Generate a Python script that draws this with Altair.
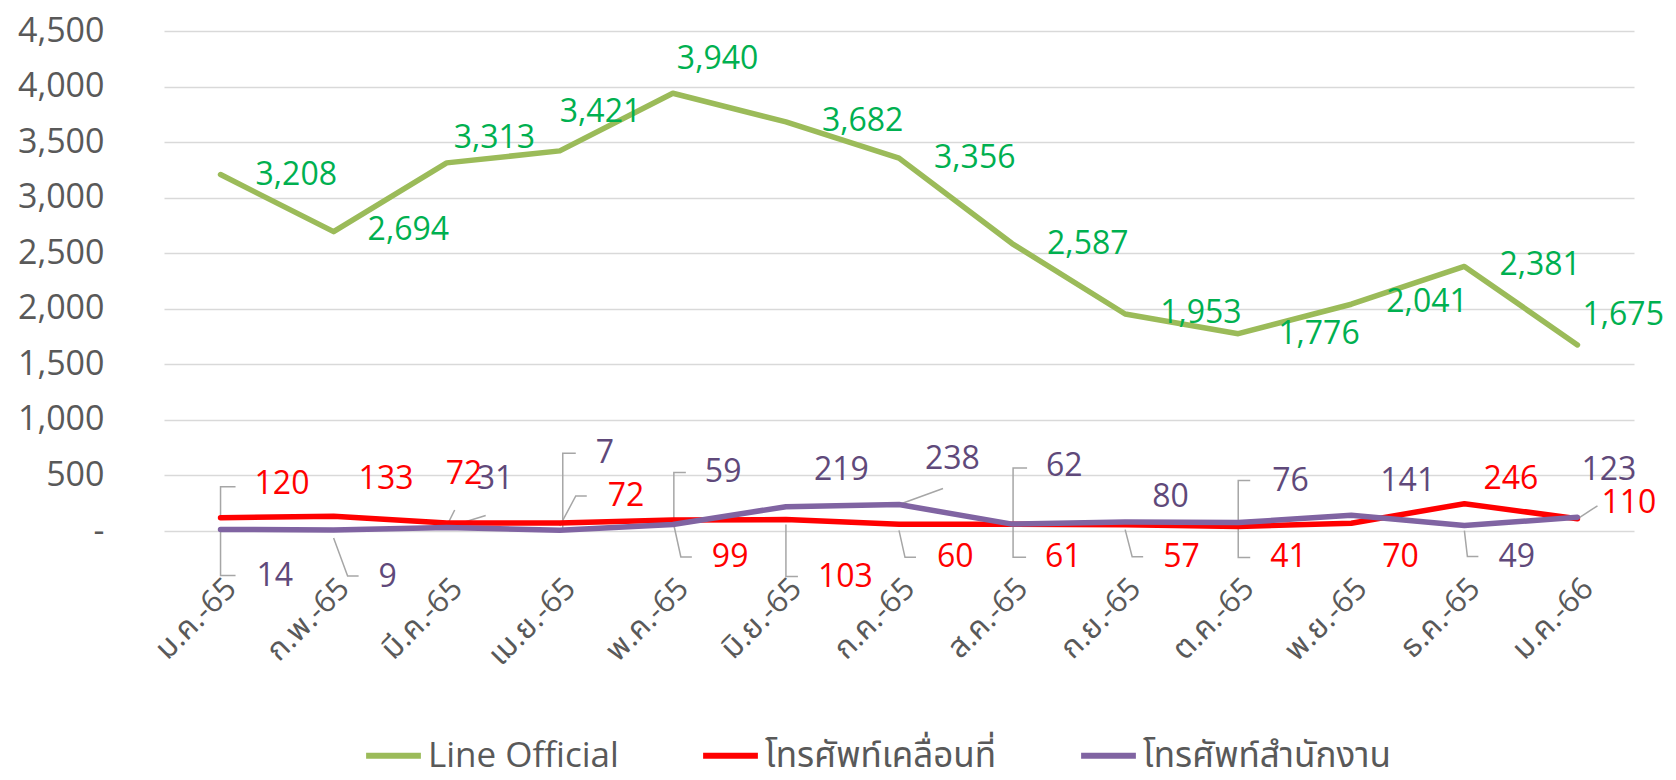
import altair as alt
import pandas as pd

# ---------------- data ----------------
months = ["ม.ค.-65", "ก.พ.-65", "มี.ค.-65", "เม.ย.-65", "พ.ค.-65", "มิ.ย.-65",
          "ก.ค.-65", "ส.ค.-65", "ก.ย.-65", "ต.ค.-65", "พ.ย.-65", "ธ.ค.-65", "ม.ค.-66"]
line_official = [3208, 2694, 3313, 3421, 3940, 3682, 3356, 2587, 1953, 1776, 2041, 2381, 1675]
mobile = [120, 133, 72, 72, 99, 103, 60, 61, 57, 41, 70, 246, 110]
office = [14, 9, 31, 7, 59, 219, 238, 62, 80, 76, 141, 49, 123]

series_names = ["Line Official", "โทรศัพท์เคลื่อนที่", "โทรศัพท์สำนักงาน"]
series_values = [line_official, mobile, office]

# ---------------- styles ----------------
line_colors = ["#9BBB59", "#FF0000", "#8064A2"]
label_colors = ["#00B050", "#FF0000", "#5F497A"]
FONT = "Open Sans, Noto Sans Thai, Noto Sans, sans-serif"

# label offsets in pixels from their point: (left edge dx, vertical centre dy; down is +)
label_offsets = [
    [(35, 0), (34, -2), (7, -25), (0, -39), (4, -34), (36, -1), (35, 0),
     (35, 0), (35, -1), (40, 0), (35, -2), (35, -1), (5, -30)],
    [(34, -34), (25, -37), (-1, -49), (48, -27), (39, 37), (32, 57), (38, 33),
     (33, 33), (38, 32), (32, 31), (31, 34), (19, -25), (24, -16)],
    [(36, 47), (45, 47), (30, -49), (36, -77), (32, -52), (28, -37), (26, -46),
     (34, -58), (27, -25), (34, -42), (29, -34), (34, 31), (4, -47)],
]

# leader lines: (series, month index, polyline offsets in pixels from the point)
leaders = [
    (1, 0, [(0, 0), (0, -31), (15, -31)]),
    (2, 0, [(0, 2), (0, 46), (15, 46)]),
    (2, 1, [(0, 8), (14, 46), (25, 46)]),
    (1, 2, [(0, 3), (8, -13)]),
    (2, 2, [(0, 0), (39, -12)]),
    (2, 3, [(3, 0), (3, -77), (16, -77)]),
    (1, 3, [(0, 3), (16, -27), (27, -27)]),
    (2, 4, [(1, 0), (1, -52), (13, -52)]),
    (1, 4, [(1, 5), (8, 37), (19, 37)]),
    (1, 5, [(0, 5), (0, 57), (12, 57)]),
    (2, 6, [(0, 0), (44, -16)]),
    (1, 6, [(0, 6), (6, 33), (17, 33)]),
    (2, 7, [(1, 0), (1, -56), (15, -56)]),
    (1, 7, [(1, 0), (1, 33), (14, 33)]),
    (1, 8, [(0, 5), (7, 32), (18, 32)]),
    (2, 9, [(0, 0), (0, -42), (12, -42)]),
    (1, 9, [(0, 0), (0, 31), (12, 31)]),
    (2, 11, [(0, 5), (3, 31), (14, 31)]),
    (1, 12, [(0, 0), (20, -13)]),
]

W, H = 1470, 500
YMAX = 4500
BAND = W / len(months)
UPX = YMAX / H

# ---------------- tables ----------------
rows = []
for s, vals in zip(series_names, series_values):
    for i, v in enumerate(vals):
        rows.append({"idx": i, "series": s, "value": v})
df_lines = pd.DataFrame(rows)

lab_rows = []
for k, (vals, offs) in enumerate(zip(series_values, label_offsets)):
    for i, (v, (dx, dy)) in enumerate(zip(vals, offs)):
        lab_rows.append({"idx": i + dx / BAND, "value": v - dy * UPX,
                         "label": f"{v:,}", "lcolor": label_colors[k]})
df_labels = pd.DataFrame(lab_rows)

ld_rows = []
for lid, (k, i, path) in enumerate(leaders):
    v = series_values[k][i]
    for seq, (dx, dy) in enumerate(path):
        ld_rows.append({"lid": lid, "seq": seq, "idx": i + dx / BAND, "value": v - dy * UPX})
df_leaders = pd.DataFrame(ld_rows)

xscale = alt.Scale(domain=[-0.5, len(months) - 0.5], nice=False, zero=False)
yscale = alt.Scale(domain=[0, YMAX], nice=False, zero=True)

month_js = "[" + ",".join("'" + m + "'" for m in months) + "]"

x_axis = alt.Axis(values=list(range(len(months))), labelExpr=f"{month_js}[datum.value]",
                  labelAngle=-45, labelAlign="right", labelBaseline="top",
                  labelPadding=42, labelFontSize=31, labelColor="#595959", labelFont=FONT,
                  grid=False, domain=False, ticks=False, title=None)
y_axis = alt.Axis(values=list(range(0, YMAX + 1, 500)),
                  labelExpr="datum.value == 0 ? '-\u00a0\u00a0\u00a0' : format(datum.value, ',')",
                  labelFontSize=34, labelColor="#595959", labelFont=FONT, labelPadding=60,
                  grid=True, gridColor="#D9D9D9", gridWidth=1.3,
                  domain=False, ticks=False, title=None)

X = alt.X("idx:Q", scale=xscale, axis=x_axis)
Y = alt.Y("value:Q", scale=yscale, axis=y_axis)

lines = alt.Chart(df_lines).mark_line(strokeWidth=5.5, strokeCap="round", strokeJoin="round").encode(
    x=X,
    y=Y,
    color=alt.Color("series:N", scale=alt.Scale(domain=series_names, range=line_colors),
                    sort=series_names,
                    legend=alt.Legend(title=None, orient="none", legendX=199, legendY=694,
                                      direction="horizontal", symbolType="stroke", symbolSize=3000,
                                      symbolStrokeWidth=6, labelFontSize=35, labelColor="#595959",
                                      labelFont=FONT, columnPadding=72, labelOffset=4, labelLimit=0)),
    order=alt.Order("idx:Q"),
)

leader_layer = alt.Chart(df_leaders).mark_line(color="#A6A6A6", strokeWidth=1.5).encode(
    x=X,
    y=Y,
    detail="lid:N",
    order="seq:Q",
)

labels = alt.Chart(df_labels).mark_text(align="left", baseline="middle", fontSize=32, font=FONT).encode(
    x=X,
    y=Y,
    text="label:N",
    color=alt.Color("lcolor:N", scale=None),
)

chart = alt.layer(leader_layer, lines, labels).properties(
    width=W, height=H,
    background="white",
    autosize=alt.AutoSizeParams(type="none"),
    padding={"left": 156, "top": 23, "right": 34, "bottom": 241},
).configure_view(stroke=None)

chart.save("out.html", embed_options={"renderer": "svg", "actions": False})
